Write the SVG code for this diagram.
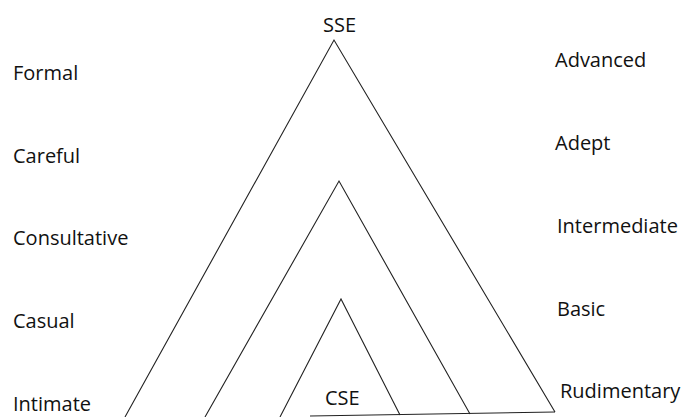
<svg xmlns="http://www.w3.org/2000/svg" width="684" height="417" viewBox="0 0 684 417">
<style>
text{font-family:"Open Sans","Noto Sans",sans-serif;font-size:20px;fill:#111}
.ln{fill:none;stroke:#222;stroke-width:1.1}
</style>
<rect width="684" height="417" fill="#fff"/>
<g id="connectors">
<polyline class="ln" points="125,417 334,40 555,412"/>
<polyline class="ln" points="205,417 339,181 470,414"/>
<polyline class="ln" points="280,417 341,299 400,415"/>
<line class="ln" x1="310" y1="416" x2="555" y2="412"/>
</g>
<g id="top"><text x="323" y="32">SSE</text></g>
<g id="bottom"><text x="325" y="405">CSE</text></g>
<g id="left">
<text x="13" y="80">Formal</text>
<text x="13" y="163">Careful</text>
<text x="13" y="245">Consultative</text>
<text x="13" y="328">Casual</text>
<text x="13" y="411">Intimate</text>
</g>
<g id="right">
<text x="555" y="67">Advanced</text>
<text x="555" y="150">Adept</text>
<text x="557" y="233">Intermediate</text>
<text x="557" y="316">Basic</text>
<text x="560" y="398">Rudimentary</text>
</g>
</svg>
